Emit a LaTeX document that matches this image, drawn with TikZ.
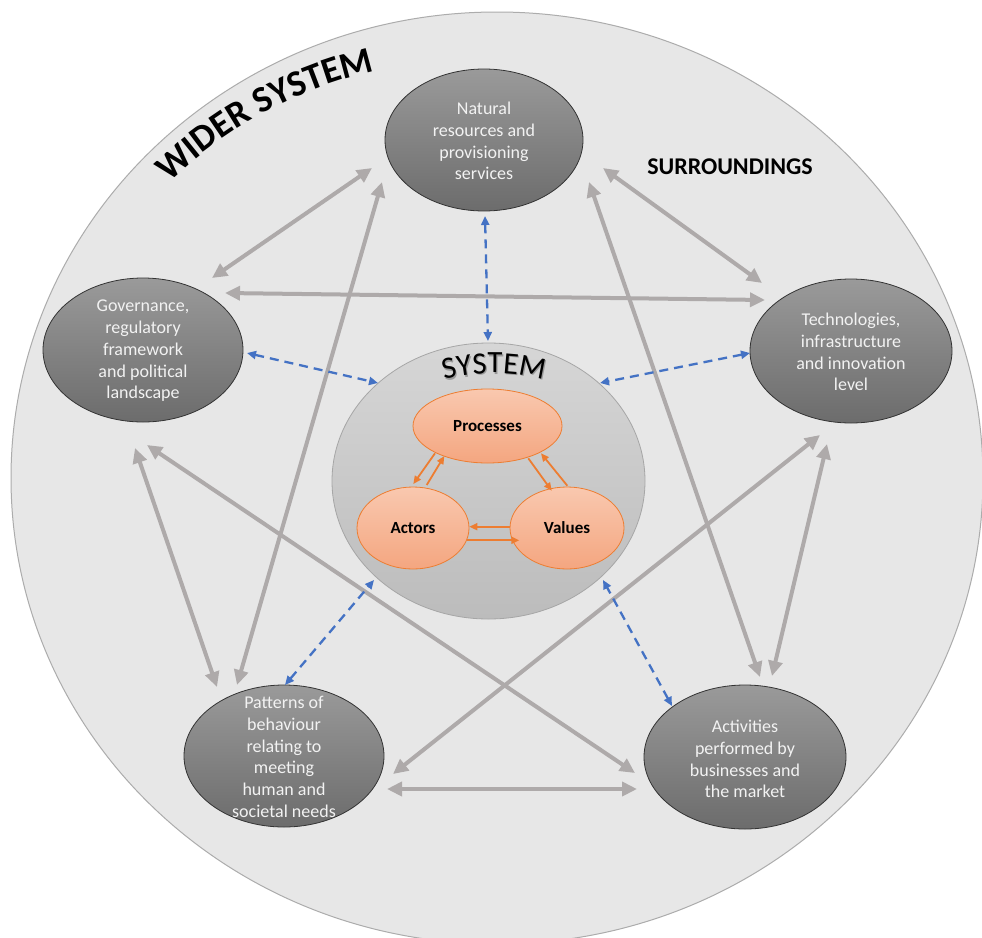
\documentclass[tikz,border=0pt]{standalone}
\usepackage{fontspec}
\setmainfont{Carlito}
\usetikzlibrary{shapes.geometric,arrows.meta,decorations.text}
\definecolor{bigfill}{RGB}{231,231,231}
\definecolor{bigline}{RGB}{172,172,172}
\definecolor{nodetop}{RGB}{154,154,154}
\definecolor{nodebot}{RGB}{108,108,108}
\definecolor{arrgrey}{RGB}{174,170,170}
\definecolor{arrblue}{RGB}{68,114,196}
\definecolor{arrorange}{RGB}{237,125,49}
\definecolor{sysTop}{RGB}{214,214,214}
\definecolor{sysBot}{RGB}{188,188,188}
\definecolor{oTop}{RGB}{249,200,175}
\definecolor{oBot}{RGB}{244,166,128}
\definecolor{nodetext}{RGB}{242,242,242}
\begin{document}
\begin{tikzpicture}[x=1pt,y=-1pt,
  outer/.style={ellipse, draw=black!80, line width=0.8pt, top color=nodetop, bottom color=nodebot, inner sep=0pt},
  outertext/.style={text=nodetext, align=center, font=\fontsize{18}{21.7}\selectfont, inner sep=0pt},
  innernode/.style={ellipse, draw=arrorange, line width=0.8pt, top color=oTop, bottom color=oBot, inner sep=0pt, font=\fontsize{17}{20}\selectfont\bfseries},
  greyarrow/.style={draw=arrgrey, line width=4pt, {Triangle[length=15pt,width=14pt]}-{Triangle[length=15pt,width=14pt]}},
  bluearrow/.style={draw=arrblue, line width=2.3pt, dash pattern=on 9pt off 6pt, {Triangle[length=9pt,width=8pt]}-{Triangle[length=9pt,width=8pt]}},
  orangearrow/.style={draw=arrorange, line width=1.8pt, -{Triangle[length=8pt,width=7pt]}},
]
\clip (0,0) rectangle (982,937);
\fill[white] (0,0) rectangle (982,937);

% wider system
\node[ellipse, draw=bigline, line width=1pt, fill=bigfill, minimum width=972pt, minimum height=932pt, inner sep=0pt] (wider) at (497,478) {};

% outer nodes
\node[outer, minimum width=198pt, minimum height=142pt] (nat) at (484,140) {};
\node[outer, minimum width=200pt, minimum height=144pt] (gov) at (143,350) {};
\node[outer, minimum width=202pt, minimum height=144pt] (tec) at (851,351) {};
\node[outer, minimum width=200pt, minimum height=142pt] (pat) at (284,756) {};
\node[outer, minimum width=202pt, minimum height=144pt] (act) at (745,757) {};

% grey connectors
\draw[greyarrow] ([shift={(-112,28)}]nat.center) -- ([shift={(69,-72)}]gov.center);
\draw[greyarrow] ([shift={(-102,42)}]nat.center) -- ([shift={(-47,-71)}]pat.center);
\draw[greyarrow] ([shift={(-8,98)}]gov.center) -- ([shift={(-67,-69)}]pat.center);
\draw[greyarrow] ([shift={(82,-57)}]gov.center) -- ([shift={(-86,-51)}]tec.center);
\draw[greyarrow] ([shift={(119,28)}]nat.center) -- ([shift={(-89,-68)}]tec.center);
\draw[greyarrow] ([shift={(105,42)}]nat.center) -- ([shift={(15,-80)}]act.center);
\draw[greyarrow] ([shift={(-24,93)}]tec.center) -- ([shift={(27,-81)}]act.center);
\draw[greyarrow] ([shift={(-31,84)}]tec.center) -- ([shift={(109,18)}]pat.center);
\draw[greyarrow] ([shift={(4,95)}]gov.center) -- ([shift={(-110,16)}]act.center);
\draw[greyarrow] ([shift={(103,33)}]pat.center) -- ([shift={(-108,32)}]act.center);

% system
\node[ellipse, draw=black!35, line width=0.8pt, top color=sysTop, bottom color=sysBot, minimum width=313pt, minimum height=276pt, inner sep=0pt] (sys) at (488.5,481) {};
\path[decorate, decoration={text along path, text={|\fontsize{31}{34}\selectfont\color{black!40}|SYSTEM}, text align=center}] (429.5,386.4) arc[start angle=-110, end angle=-70, radius=192];
\path[decorate, decoration={text along path, text={|\fontsize{31}{34}\selectfont|SYSTEM}, text align=center}] (428.3,384.6) arc[start angle=-110, end angle=-70, radius=192];

\node[innernode, minimum width=149pt, minimum height=74pt] (proc) at (487.5,426) {Processes};
\node[innernode, minimum width=112pt, minimum height=82pt] (actr) at (413,528) {Actors};
\node[innernode, minimum width=114pt, minimum height=82pt] (valu) at (567,528) {Values};

\draw[orangearrow] ([shift={(-52.5,27.3)}]proc.center) -- ([shift={(0.3,-44)}]actr.center);
\draw[orangearrow] ([shift={(13.7,-43)}]actr.center) -- ([shift={(-43.2,30)}]proc.center);
\draw[orangearrow] ([shift={(40.8,32.3)}]proc.center) -- ([shift={(-15.3,-37.3)}]valu.center);
\draw[orangearrow] ([shift={(0.3,-42.3)}]valu.center) -- ([shift={(53.5,27.3)}]proc.center);
\draw[orangearrow] ([shift={(-57,-1.3)}]valu.center) -- ([shift={(56.3,-1.3)}]actr.center);
\draw[orangearrow] ([shift={(53.7,12.3)}]actr.center) -- ([shift={(-47.7,12.3)}]valu.center);

% blue dashed connectors
\draw[bluearrow] ([shift={(1,76)}]nat.center) -- ([shift={(-0.5,-140)}]sys.center);
\draw[bluearrow] ([shift={(104,3)}]gov.center) -- ([shift={(-110.5,-98)}]sys.center);
\draw[bluearrow] ([shift={(-101,2)}]tec.center) -- ([shift={(111.5,-98)}]sys.center);
\draw[bluearrow] ([shift={(1,-71)}]pat.center) -- ([shift={(-114.5,99)}]sys.center);
\draw[bluearrow] ([shift={(-73,-51)}]act.center) -- ([shift={(114.5,99)}]sys.center);

% outer node texts
\node[outertext] (nat-t) at (484,141) {Natural\\resources and\\provisioning\\services};
\node[outertext] (gov-t) at (143,351) {Governance,\\regulatory\\framework\\and political\\landscape};
\node[outertext] (tec-t) at (851,352) {Technologies,\\infrastructure\\and innovation\\level};
\node[outertext] (pat-t) at (284,757) {Patterns of\\behaviour\\relating to\\meeting\\human and\\societal needs};
\node[outertext] (act-t) at (745,759) {Activities\\performed by\\businesses and\\the market};

% titles
\path[decorate, decoration={text along path, text={|\fontsize{37}{40}\selectfont\bfseries|WIDER SYSTEM}, text align=center}] (138.8,215.4) arc[start angle=-140, end angle=-97, radius=435];
\node[font=\fontsize{24}{28}\selectfont\bfseries, inner sep=0pt] (sur) at (730,167) {SURROUNDINGS};
\end{tikzpicture}
\end{document}
